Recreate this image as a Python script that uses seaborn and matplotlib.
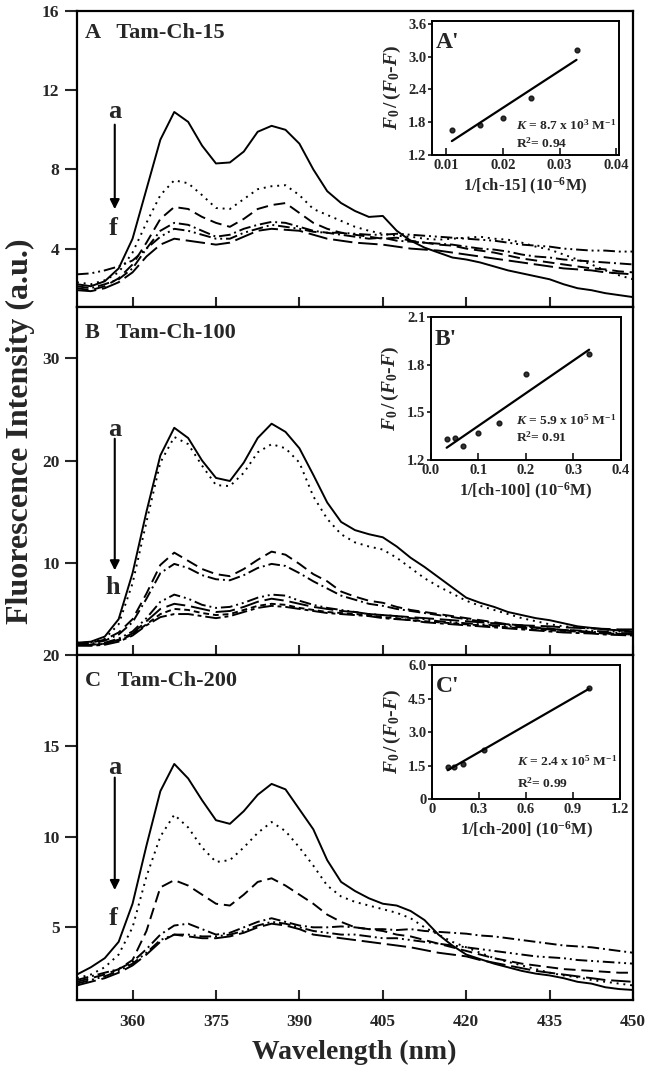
import numpy as np
import pandas as pd
import seaborn as sns
import matplotlib
matplotlib.use('Agg')
import matplotlib.pyplot as plt

# wavelength grid (nm), one value every 2.5 nm
wl = np.arange(350, 450.1, 2.5)

# panel A: Tam-Ch-15, curves a..f
A_a = [2.2, 2.1, 2.35, 3.0, 4.5, 7.0, 9.5, 10.9, 10.4, 9.2, 8.3, 8.35, 8.9, 9.9, 10.2, 10.0, 9.3, 8.0, 6.9, 6.3, 5.9,
       5.6, 5.65, 4.9, 4.4, 4.05, 3.8, 3.55, 3.45, 3.3, 3.1, 2.9, 2.75, 2.6, 2.45, 2.2, 2.0, 1.9, 1.75, 1.65, 1.55]
A_b = [2.3, 2.2, 2.4, 2.8, 3.8, 5.3, 6.7, 7.45, 7.3, 6.7, 6.05, 6.0, 6.5, 7.0, 7.15, 7.2, 6.7, 6.0, 5.7, 5.4, 5.1,
       4.9, 4.75, 4.65, 4.6, 4.5, 4.45, 4.5, 4.55, 4.6, 4.5, 4.45, 4.3, 4.1, 3.95, 3.7, 3.45, 3.2, 2.9, 2.65, 2.45]
A_c = [2.0, 1.9, 2.1, 2.5, 3.2, 4.3, 5.5, 6.1, 6.0, 5.6, 5.3, 5.1, 5.5, 6.0, 6.2, 6.3, 5.8, 5.3, 5.0, 4.8, 4.7,
       4.6, 4.5, 4.55, 4.4, 4.3, 4.2, 4.15, 4.0, 3.9, 3.8, 3.65, 3.5, 3.4, 3.3, 3.2, 3.1, 3.0, 2.95, 2.85, 2.8]
A_d = [2.1, 2.0, 2.2, 2.45, 3.0, 4.0, 4.9, 5.3, 5.2, 4.9, 4.6, 4.7, 5.0, 5.2, 5.35, 5.3, 5.1, 4.9, 4.8, 4.7, 4.6,
       4.5, 4.55, 4.4, 4.35, 4.3, 4.25, 4.2, 4.1, 4.0, 3.95, 3.85, 3.7, 3.6, 3.55, 3.45, 3.4, 3.35, 3.3, 3.25, 3.2]
A_e = [2.7, 2.75, 2.9, 3.1, 3.4, 4.0, 4.6, 5.0, 4.9, 4.7, 4.5, 4.5, 4.8, 5.0, 5.2, 5.1, 5.0, 4.85, 4.8, 4.8, 4.75,
       4.7, 4.7, 4.75, 4.7, 4.65, 4.6, 4.55, 4.5, 4.45, 4.4, 4.3, 4.2, 4.15, 4.1, 4.0, 3.95, 3.9, 3.9, 3.85, 3.85]
A_f = [1.9, 1.85, 2.0, 2.3, 2.8, 3.6, 4.2, 4.5, 4.4, 4.3, 4.2, 4.3, 4.6, 4.9, 5.0, 4.95, 4.9, 4.7, 4.5, 4.4, 4.3,
       4.25, 4.2, 4.1, 4.0, 3.95, 3.9, 3.8, 3.7, 3.6, 3.5, 3.4, 3.3, 3.2, 3.1, 3.0, 2.95, 2.9, 2.8, 2.75, 2.7]

# panel B: Tam-Ch-100, curves a..h
B_a = [2.2, 2.3, 2.8, 4.5, 9.0, 15.0, 20.5, 23.2, 22.2, 20.0, 18.3, 18.0, 19.8, 22.2, 23.6, 22.8, 21.2, 18.6, 15.9, 14.0, 13.2,
       12.8, 12.5, 11.6, 10.5, 9.6, 8.6, 7.6, 6.6, 6.1, 5.7, 5.2, 4.9, 4.6, 4.4, 4.1, 3.8, 3.65, 3.5, 3.4, 3.3]
B_b = [2.2, 2.2, 2.6, 4.0, 8.0, 14.0, 19.8, 22.3, 21.6, 19.5, 17.6, 17.5, 18.8, 20.8, 21.6, 21.2, 19.8, 16.5, 14.3, 12.8, 12.0,
       11.6, 11.3, 10.5, 9.5, 8.5, 7.7, 7.0, 6.3, 5.8, 5.4, 5.0, 4.6, 4.3, 4.0, 3.8, 3.7, 3.6, 3.5, 3.4, 3.3]
B_c = [2.1, 2.2, 2.5, 3.2, 4.5, 7.0, 9.8, 11.0, 10.2, 9.4, 8.9, 8.7, 9.4, 10.3, 11.1, 10.8, 9.9, 8.9, 8.2, 7.2, 6.7,
       6.3, 6.1, 5.7, 5.4, 5.2, 5.0, 4.8, 4.6, 4.4, 4.2, 4.0, 3.9, 3.7, 3.6, 3.4, 3.3, 3.2, 3.1, 3.05, 3.0]
B_d = [2.1, 2.1, 2.4, 3.0, 4.2, 6.5, 9.0, 9.9, 9.5, 8.8, 8.4, 8.3, 8.8, 9.5, 9.9, 9.7, 9.0, 8.2, 7.5, 6.8, 6.4,
       6.0, 5.8, 5.5, 5.3, 5.1, 4.9, 4.7, 4.5, 4.3, 4.1, 3.95, 3.8, 3.65, 3.55, 3.45, 3.35, 3.25, 3.2, 3.15, 3.1]
B_e = [2.0, 2.0, 2.2, 2.6, 3.3, 4.6, 6.2, 6.9, 6.5, 5.9, 5.6, 5.7, 6.1, 6.6, 6.9, 6.8, 6.3, 5.9, 5.6, 5.4, 5.2,
       5.0, 4.9, 4.8, 4.6, 4.5, 4.3, 4.2, 4.1, 4.0, 3.9, 3.8, 3.7, 3.6, 3.5, 3.45, 3.4, 3.35, 3.3, 3.3, 3.25]
B_f = [2.0, 2.0, 2.1, 2.5, 3.1, 4.3, 5.5, 6.0, 5.8, 5.5, 5.2, 5.3, 5.7, 6.2, 6.5, 6.3, 6.0, 5.7, 5.5, 5.3, 5.2,
       5.0, 4.9, 4.8, 4.7, 4.6, 4.5, 4.4, 4.3, 4.2, 4.1, 4.0, 3.9, 3.85, 3.8, 3.7, 3.65, 3.6, 3.55, 3.5, 3.5]
B_g = [2.0, 1.95, 2.1, 2.4, 3.0, 4.0, 5.0, 5.5, 5.4, 5.1, 4.9, 5.0, 5.4, 5.8, 6.0, 5.9, 5.6, 5.4, 5.2, 5.1, 5.0,
       4.9, 4.7, 4.6, 4.4, 4.3, 4.2, 4.1, 4.0, 3.9, 3.8, 3.7, 3.6, 3.5, 3.4, 3.35, 3.3, 3.2, 3.1, 3.05, 3.0]
B_h = [1.9, 1.9, 2.0, 2.3, 2.9, 3.9, 4.7, 5.0, 5.0, 4.8, 4.6, 4.8, 5.2, 5.6, 5.8, 5.7, 5.5, 5.3, 5.1, 5.0, 4.9,
       4.8, 4.6, 4.5, 4.4, 4.2, 4.1, 4.0, 3.9, 3.8, 3.7, 3.6, 3.5, 3.4, 3.3, 3.2, 3.15, 3.1, 3.0, 2.95, 2.9]

# panel C: Tam-Ch-200, curves a..f
C_a = [2.4, 2.8, 3.3, 4.2, 6.3, 9.5, 12.5, 14.0, 13.2, 12.0, 10.9, 10.7, 11.4, 12.3, 12.9, 12.6, 11.5, 10.4, 8.7, 7.5, 7.0,
       6.6, 6.3, 6.2, 5.9, 5.4, 4.6, 4.0, 3.5, 3.25, 3.0, 2.8, 2.6, 2.45, 2.35, 2.2, 2.0, 1.9, 1.7, 1.6, 1.55]
C_b = [2.2, 2.4, 2.8, 3.5, 5.0, 7.8, 10.0, 11.2, 10.5, 9.4, 8.6, 8.7, 9.4, 10.2, 10.8, 10.3, 9.4, 8.4, 7.3, 6.7, 6.4,
       6.2, 6.0, 5.8, 5.5, 5.0, 4.6, 4.2, 3.9, 3.6, 3.3, 3.1, 2.9, 2.7, 2.5, 2.35, 2.25, 2.1, 2.0, 1.9, 1.8]
C_c = [2.0, 2.2, 2.4, 2.7, 3.2, 4.8, 7.2, 7.6, 7.3, 6.8, 6.3, 6.2, 6.8, 7.5, 7.7, 7.3, 6.8, 6.3, 5.7, 5.3, 5.0,
       4.9, 4.8, 4.6, 4.5, 4.3, 4.1, 3.9, 3.7, 3.5, 3.3, 3.15, 3.0, 2.9, 2.8, 2.7, 2.65, 2.6, 2.55, 2.5, 2.5]
C_d = [2.1, 2.3, 2.5, 2.7, 3.1, 3.8, 4.6, 5.1, 5.2, 4.9, 4.6, 4.7, 5.0, 5.3, 5.5, 5.3, 5.1, 5.0, 5.0, 5.05, 5.0,
       4.9, 4.9, 4.85, 4.9, 4.8, 4.75, 4.7, 4.65, 4.55, 4.5, 4.4, 4.3, 4.2, 4.1, 4.0, 3.95, 3.9, 3.8, 3.7, 3.6]
C_e = [1.9, 2.1, 2.3, 2.6, 3.0, 3.6, 4.3, 4.6, 4.6, 4.5, 4.5, 4.6, 4.8, 5.1, 5.3, 5.2, 5.0, 4.8, 4.7, 4.6, 4.6,
       4.5, 4.4, 4.4, 4.3, 4.2, 4.1, 4.0, 3.9, 3.8, 3.7, 3.6, 3.5, 3.4, 3.35, 3.3, 3.2, 3.15, 3.1, 3.05, 3.0]
C_f = [1.8, 2.0, 2.2, 2.5, 2.9, 3.5, 4.2, 4.6, 4.5, 4.4, 4.4, 4.5, 4.7, 5.0, 5.2, 5.1, 4.9, 4.6, 4.5, 4.4, 4.3,
       4.2, 4.1, 4.0, 3.9, 3.75, 3.6, 3.5, 3.4, 3.2, 3.05, 2.9, 2.75, 2.6, 2.5, 2.4, 2.3, 2.2, 2.1, 2.05, 2.0]

# inset data (Stern-Volmer type plots)
A_inv = [0.011, 0.016, 0.020, 0.025, 0.033]
A_ratio = [1.65, 1.75, 1.88, 2.25, 3.12]
B_inv = [0.033, 0.05, 0.067, 0.10, 0.143, 0.20, 0.333]
B_ratio = [1.33, 1.34, 1.29, 1.37, 1.43, 1.74, 1.87]
C_inv = [0.10, 0.143, 0.20, 0.333, 1.0]
C_ratio = [1.45, 1.42, 1.58, 2.2, 4.95]

dash_map = {'a': '', 'b': (1, 2.5), 'c': (6, 3), 'd': (6, 2, 1, 2), 'e': (6, 2, 1, 2, 1, 2),
            'f': (10, 3), 'g': (3, 2), 'h': (8, 2, 2, 2)}

sns.set_style('ticks')
plt.rcParams['font.family'] = ['Liberation Serif', 'DejaVu Serif']
plt.rcParams['font.weight'] = 'bold'
plt.rcParams['axes.labelweight'] = 'bold'
plt.rcParams['mathtext.fontset'] = 'custom'
plt.rcParams['mathtext.rm'] = 'Liberation Serif:bold'
plt.rcParams['mathtext.bf'] = 'Liberation Serif:bold'
plt.rcParams['mathtext.it'] = 'Liberation Serif:bold:italic'


def to_long(curves):
    frames = []
    for name, vals in curves.items():
        frames.append(pd.DataFrame({'wl': wl, 'F': vals, 'curve': name}))
    return pd.concat(frames, ignore_index=True)


panels = [
    dict(curves={'a': A_a, 'b': A_b, 'c': A_c, 'd': A_d, 'e': A_e, 'f': A_f},
         rect=[0.118, 0.7152, 0.853, 0.2746], ylim=(1.05, 16), yticks=[4, 8, 12, 16],
         title='A   Tam-Ch-15', arrow=(10.4, 5.85), a_y=10.9, end='f', end_y=5.0,
         inv=A_inv, ratio=A_ratio, inset=[0.6626, 0.8562, 0.2868, 0.1243], ixlim=(0.0075, 0.0405),
         ixt=[0.01, 0.02, 0.03, 0.04], ixtl=['0.01', '0.02', '0.03', '0.04'],
         iylim=(1.2, 3.65), iyt=[1.2, 1.8, 2.4, 3.0, 3.6], iytl=['1.2', '1.8', '2.4', '3.0', '3.6'],
         ilab="A'", ixlab=r'1/[ch-15] (10$^{-6}$M)', K=r'$K$ = 8.7 x 10$^{3}$ M$^{-1}$', R='R$^{2}$= 0.94',
         ky=(0.22, 0.09)),
    dict(curves={'a': B_a, 'b': B_b, 'c': B_c, 'd': B_d, 'e': B_e, 'f': B_f, 'g': B_g, 'h': B_h},
         rect=[0.118, 0.3924, 0.853, 0.3228], ylim=(1.0, 35), yticks=[10, 20, 30],
         title='B   Tam-Ch-100', arrow=(22.4, 9.0), a_y=23.0, end='h', end_y=7.6,
         inv=B_inv, ratio=B_ratio, inset=[0.661, 0.5733, 0.2914, 0.1326], ixlim=(0.0, 0.4),
         ixt=[0.0, 0.1, 0.2, 0.3, 0.4], ixtl=['0.0', '0.1', '0.2', '0.3', '0.4'],
         iylim=(1.2, 2.1), iyt=[1.2, 1.5, 1.8, 2.1], iytl=['1.2', '1.5', '1.8', '2.1'],
         ilab="B'", ixlab=r'1/[ch-100] (10$^{-6}$M)', K=r'$K$ = 5.9 x 10$^{5}$ M$^{-1}$', R='R$^{2}$= 0.91',
         ky=(0.28, 0.16)),
    dict(curves={'a': C_a, 'b': C_b, 'c': C_c, 'd': C_d, 'e': C_e, 'f': C_f},
         rect=[0.118, 0.0724, 0.853, 0.3200], ylim=(1.0, 20), yticks=[5, 10, 15, 20],
         title='C   Tam-Ch-200', arrow=(13.4, 6.9), a_y=13.8, end='f', end_y=5.5,
         inv=C_inv, ratio=C_ratio, inset=[0.6626, 0.2588, 0.2884, 0.1243], ixlim=(0.0, 1.2),
         ixt=[0.0, 0.3, 0.6, 0.9, 1.2], ixtl=['0', '0.3', '0.6', '0.9', '1.2'],
         iylim=(0.0, 6.0), iyt=[0, 1.5, 3.0, 4.5, 6.0], iytl=['0', '1.5', '3.0', '4.5', '6.0'],
         ilab="C'", ixlab=r'1/[ch-200] (10$^{-6}$M)', K=r'$K$ = 2.4 x 10$^{5}$ M$^{-1}$', R='R$^{2}$= 0.99',
         ky=(0.28, 0.12)),
]

fig = plt.figure(figsize=(6.52, 10.78), dpi=100)

for i, p in enumerate(panels):
    ax = fig.add_axes(p['rect'])
    df = to_long(p['curves'])
    sns.lineplot(data=df, x='wl', y='F', style='curve', dashes=dash_map, color='black',
                 linewidth=1.4, sort=False, errorbar=None, legend=False, ax=ax)
    ax.set_xlim(350, 450)
    ax.set_ylim(*p['ylim'])
    ax.set_yticks(p['yticks'])
    ax.set_xticks(np.arange(360, 451, 15))
    ax.tick_params(axis='y', direction='out', length=9, width=1.5, labelsize=12.5)
    ax.tick_params(axis='x', direction='in', length=7, width=1.5, labelsize=12.5, pad=10)
    if i < 2:
        ax.tick_params(axis='x', labelbottom=False)
    for s in ax.spines.values():
        s.set_linewidth(1.6)
        s.set_color('black')
    ax.set_xlabel('')
    ax.set_ylabel('')
    ax.text(0.014, 0.925, p['title'], transform=ax.transAxes, fontsize=16, fontweight='bold', va='center')
    ax.annotate('', xy=(356.8, p['arrow'][1]), xytext=(356.8, p['arrow'][0]),
                arrowprops=dict(arrowstyle='-|>', color='black', lw=1.5, mutation_scale=14))
    ax.text(356.8, p['a_y'], 'a', fontsize=19, fontweight='bold', ha='center', va='center')
    ax.text(356.5, p['end_y'], p['end'], fontsize=19, fontweight='bold', ha='center', va='center')

    # inset
    ia = fig.add_axes(p['inset'])
    sns.regplot(x=p['inv'], y=p['ratio'], ci=None, truncate=True, ax=ia, color='black',
                scatter_kws=dict(s=12), line_kws=dict(lw=1.6))
    ia.set_xlim(*p['ixlim'])
    ia.set_ylim(*p['iylim'])
    ia.set_xticks(p['ixt'])
    ia.set_xticklabels(p['ixtl'])
    ia.set_yticks(p['iyt'])
    ia.set_yticklabels(p['iytl'])
    ia.tick_params(axis='x', direction='in', length=5, width=1.3, labelsize=10.5, pad=3)
    ia.tick_params(axis='y', direction='out', length=3, width=1.3, labelsize=10.5, pad=1)
    for s in ia.spines.values():
        s.set_linewidth(1.4)
        s.set_color('black')
    ia.set_ylabel(r'$F_0\,/\,(F_0$-$F)$', fontsize=14, labelpad=4)
    ia.set_xlabel(p['ixlab'], fontsize=12, labelpad=3)
    ia.text(0.02, 0.84, p['ilab'], transform=ia.transAxes, fontsize=17, fontweight='bold', va='center')
    ia.text(0.45, p['ky'][0], p['K'], transform=ia.transAxes, fontsize=9.7, fontweight='bold', va='center')
    ia.text(0.45, p['ky'][1], p['R'], transform=ia.transAxes, fontsize=9.7, fontweight='bold', va='center')

fig.text(0.031, 0.6, 'Fluorescence Intensity (a.u.)', rotation=90, fontsize=23, fontweight='bold',
         ha='center', va='center')
fig.text(0.543, 0.024, 'Wavelength (nm)', fontsize=20, fontweight='bold', ha='center', va='center')

fig.savefig('out.png', dpi=100)
